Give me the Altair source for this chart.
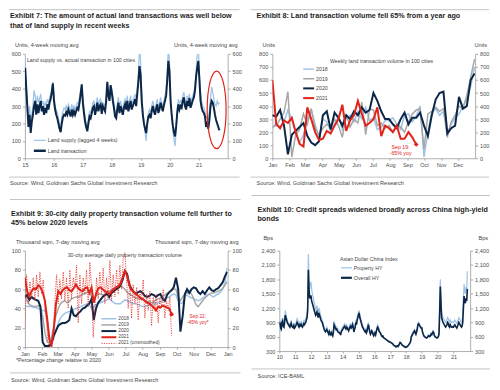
import altair as alt
import pandas as pd

# ---------------------------------------------------------------- data
# Exhibit 7: land transactions / land supply in 100 cities (4-wk avg, sampled every 2 weeks)
LAND_TRANS = {
    2015: [520, 400, 290, 180, 250, 145, 210, 250, 300, 330, 250, 310, 260, 300, 330, 270, 300, 250, 290, 260, 310, 280, 320, 340, 380, 430],
    2016: [330, 280, 250, 230, 200, 170, 150, 200, 235, 250, 245, 265, 250, 280, 260, 240, 280, 250, 270, 250, 270, 290, 280, 320, 370, 425],
    2017: [320, 260, 210, 180, 155, 200, 240, 230, 260, 290, 300, 250, 280, 320, 270, 300, 310, 255, 300, 285, 270, 330, 440, 360, 330, 420],
    2018: [380, 330, 290, 240, 230, 280, 320, 260, 300, 275, 250, 290, 310, 280, 330, 270, 300, 330, 280, 300, 320, 340, 300, 370, 440, 530],
    2019: [480, 330, 250, 200, 170, 145, 200, 240, 250, 230, 270, 300, 270, 250, 285, 310, 260, 280, 320, 295, 270, 305, 330, 360, 450, 560],
    2020: [500, 330, 250, 190, 150, 125, 180, 260, 310, 280, 300, 290, 330, 350, 300, 280, 330, 300, 345, 290, 310, 335, 350, 390, 470, 520],
    2021: [560, 450, 330, 290, 270, 260, 240, 180, 200, 170, 220, 300, 330, 320, 290, 250, 220, 200, 180, 160],
}
LAND_SUPPLY = {
    2015: [590, 430, 320, 230, 300, 200, 250, 300, 390, 360, 290, 360, 320, 340, 370, 310, 330, 290, 320, 300, 340, 320, 350, 370, 400, 440],
    2016: [360, 300, 280, 260, 230, 200, 170, 240, 270, 290, 280, 300, 280, 310, 290, 270, 310, 280, 300, 280, 300, 320, 310, 350, 390, 410],
    2017: [340, 290, 240, 200, 175, 230, 270, 260, 290, 320, 330, 280, 310, 350, 300, 330, 340, 280, 320, 310, 300, 350, 420, 380, 350, 410],
    2018: [400, 360, 320, 270, 260, 310, 350, 290, 330, 300, 280, 320, 340, 310, 360, 300, 330, 360, 310, 330, 350, 370, 330, 400, 470, 640],
    2019: [560, 380, 280, 210, 150, 100, 180, 260, 280, 260, 300, 330, 300, 280, 310, 340, 290, 310, 350, 320, 300, 330, 360, 390, 480, 640],
    2020: [560, 360, 250, 160, 110, 70, 150, 290, 340, 310, 330, 320, 360, 380, 330, 310, 360, 330, 370, 320, 340, 360, 380, 420, 500, 600],
    2021: [650, 480, 380, 330, 300, 290, 270, 230, 240, 220, 280, 350, 410, 380, 340, 310, 300, 330, 310, 320],
}
ELLIPSE_CENTER = (2021.62, 278)

# Exhibit 8: weekly land transaction volume in 100 cities (units)
WEEKLY_2018 = [230, 270, 240, 280, 370, 300, 200, 120, 180, 300, 370, 260, 160, 300, 280, 210, 260, 320, 220, 300,
               330, 280, 360, 300, 390, 290, 310, 220, 240, 290, 290, 310, 260, 220, 330, 340, 280, 320, 400, 10,
               200, 350, 380, 330, 360, 200, 260, 310, 340, 400, 450, 550, 700]
WEEKLY_2019 = [240, 250, 300, 350, 510, 10, 180, 220, 340, 260, 380, 230, 180, 230, 260, 230, 300, 250, 160, 340,
               240, 300, 270, 430, 180, 380, 370, 250, 270, 230, 250, 200, 260, 240, 200, 280, 340, 370, 380, 70,
               340, 360, 390, 360, 380, 160, 280, 330, 400, 380, 480, 620, 760]
WEEKLY_2020 = [330, 320, 370, 250, 30, 180, 210, 240, 270, 170, 120, 100, 130, 330, 360, 220, 350, 310, 250, 330,
               300, 360, 330, 390, 350, 370, 500, 440, 360, 300, 300, 260, 230, 300, 350, 260, 310, 310, 350, 250,
               170, 330, 450, 500, 510, 190, 230, 250, 470, 380, 400, 600, 650]
WEEKLY_2021 = [600, 260, 230, 290, 270, 310, 200, 110, 90, 390, 300, 200, 140, 150, 210, 190, 250, 300, 410, 210,
               290, 330, 440, 340, 250, 270, 300, 390, 170, 250, 230, 200, 250, 150, 150, 200, 160, 105]

# Exhibit 9: 30-city daily property transactions (k sqm, 7-day avg, every 4 days)
DAILY_2018 = [43, 42, 42, 42, 41, 41, 40, 39, 38, 38, 30, 12, 4, 9, 18, 25, 30, 33, 35, 36,
              37, 38, 39, 40, 41, 42, 43, 44, 45, 44, 40, 42, 44, 45, 46, 47, 48, 49, 50, 48,
              46, 45, 45, 45, 47, 49, 48, 47, 46, 45, 45, 44, 43, 42, 42, 43, 43, 44, 45, 45,
              46, 47, 48, 50, 51, 52, 54, 55, 54, 48, 45, 46, 53, 54, 52, 51, 50, 49, 48, 49,
              51, 52, 54, 55, 53, 52, 54, 55, 57, 60, 66, 82]
DAILY_2019 = [60, 48, 44, 43, 42, 42, 43, 41, 32, 15, 6, 4, 10, 22, 33, 40, 45, 47, 48, 46,
              47, 50, 51, 52, 52, 53, 55, 55, 57, 58, 52, 49, 53, 55, 55, 54, 55, 57, 58, 59,
              61, 62, 62, 63, 62, 60, 57, 55, 54, 52, 51, 50, 50, 49, 48, 47, 47, 46, 47, 49,
              50, 51, 52, 54, 56, 57, 59, 60, 60, 52, 48, 52, 55, 56, 58, 55, 50, 44, 42, 45,
              48, 51, 53, 55, 56, 56, 57, 58, 59, 61, 64, 68]
DAILY_2020 = [52, 54, 49, 52, 50, 49, 48, 42, 5, 1, 1, 1, 4, 12, 17, 22, 24, 25, 25, 26,
              28, 40, 33, 32, 35, 37, 40, 41, 43, 45, 50, 28, 40, 46, 49, 52, 54, 55, 52, 56,
              58, 60, 61, 64, 70, 79, 76, 65, 60, 57, 55, 57, 58, 56, 53, 52, 53, 55, 54, 52,
              54, 55, 50, 48, 54, 57, 59, 62, 72, 60, 16, 32, 55, 60, 56, 60, 62, 61, 57, 55,
              58, 55, 59, 62, 59, 58, 60, 61, 64, 67, 73, 78]
DAILY_2021 = [72, 58, 53, 58, 61, 60, 64, 62, 57, 48, 30, 8, 2, 18, 45, 58, 55, 59, 61, 62,
              59, 58, 61, 65, 61, 59, 58, 61, 62, 56, 62, 46, 55, 61, 62, 60, 58, 57, 55, 58,
              60, 62, 63, 66, 72, 79, 74, 64, 59, 57, 55, 53, 51, 50, 48, 46, 45, 43, 41, 38,
              42, 41, 43, 42, 41, 40, 34]
# 2021 unsmoothed, every 3 days
DAILY_2021_RAW = [20, 75, 45, 68, 50, 72, 48, 75, 52, 78, 55, 70, 40, 25, 3, 0, 2, 12, 48, 75,
                  45, 70, 50, 78, 48, 72, 40, 80, 50, 72, 62, 85, 25, 75, 45, 72, 55, 80, 42, 88,
                  62, 10, 40, 72, 50, 78, 55, 82, 45, 72, 50, 90, 48, 75, 52, 80, 55, 85, 60, 92,
                  98, 70, 40, 68, 30, 65, 45, 62, 28, 58, 48, 70, 30, 55, 38, 58, 22, 52, 40, 55,
                  25, 50, 42, 60, 30, 48, 38, 52, 12]

# Exhibit 10: Asian Dollar China index spreads (bp, twice a month)
HY_OVERALL = {
    2010: [850, 900, 780, 760, 900, 930, 820, 800, 900, 1050, 1000, 950, 900, 870, 850, 820, 800, 850, 880, 820, 800, 790, 830, 780],
    2011: [800, 830, 860, 900, 880, 820, 800, 850, 830, 860, 820, 800, 830, 870, 850, 880, 900, 950, 1000, 1150, 2000, 1600, 1400, 1450],
    2012: [1450, 1350, 1300, 1250, 1200, 1150, 1100, 1050, 1080, 1120, 1050, 1000, 1100, 1050, 1000, 950, 920, 900, 850, 800, 750, 720, 700, 720],
    2013: [750, 720, 680, 650, 700, 660, 640, 680, 650, 620, 700, 850, 820, 780, 750, 760, 720, 700, 690, 680, 660, 650, 700, 730],
    2014: [750, 780, 800, 820, 780, 760, 800, 780, 750, 720, 760, 800, 820, 780, 800, 850, 800, 700, 750, 800, 900, 850, 950, 1000],
    2015: [1050, 1100, 1000, 950, 900, 850, 800, 780, 750, 720, 700, 720, 680, 720, 800, 850, 780, 700, 650, 680, 720, 700, 650, 620],
    2016: [650, 680, 640, 700, 760, 800, 780, 720, 700, 680, 650, 620, 600, 610, 580, 570, 560, 550, 540, 530, 520, 510, 500, 490],
    2017: [490, 480, 470, 460, 450, 430, 420, 410, 400, 390, 400, 410, 400, 420, 450, 480, 470, 450, 430, 420, 410, 400, 390, 380],
    2018: [380, 390, 400, 410, 430, 450, 470, 500, 600, 620, 650, 680, 700, 720, 680, 650, 700, 750, 850, 870, 850, 820, 800, 780],
    2019: [780, 700, 650, 620, 600, 590, 580, 570, 580, 600, 620, 610, 600, 620, 650, 640, 680, 700, 680, 620, 600, 590, 580, 570],
    2020: [580, 600, 650, 1100, 1650, 1300, 1000, 950, 900, 880, 850, 820, 800, 820, 850, 900, 880, 820, 800, 850, 820, 800, 810, 800],
    2021: [800, 830, 850, 820, 800, 780, 820, 850, 900, 880, 850, 820, 800, 820, 900, 1200, 1450, 1350, 1300, 1400, 1350, 1600],
}
HY_PROPERTY = {
    2010: [800, 950, 750, 700, 950, 1000, 850, 820, 950, 1150, 1080, 1000, 950, 900, 880, 860, 840, 900, 930, 860, 840, 820, 880, 820],
    2011: [850, 880, 920, 980, 950, 870, 850, 900, 880, 920, 870, 850, 880, 930, 900, 950, 980, 1020, 1100, 1300, 2330, 1800, 1600, 1700],
    2012: [1750, 1600, 1500, 1450, 1380, 1300, 1250, 1180, 1200, 1250, 1150, 1100, 1200, 1150, 1080, 1020, 980, 950, 900, 850, 800, 760, 740, 760],
    2013: [800, 760, 720, 690, 740, 700, 670, 720, 690, 660, 750, 920, 880, 830, 800, 810, 760, 740, 730, 720, 700, 690, 740, 780],
    2014: [800, 830, 850, 870, 830, 800, 850, 830, 800, 760, 800, 850, 870, 830, 850, 900, 850, 740, 790, 850, 950, 900, 1000, 1080],
    2015: [1100, 1150, 1050, 1000, 950, 900, 850, 820, 780, 750, 730, 760, 710, 760, 840, 900, 820, 730, 680, 710, 750, 730, 680, 640],
    2016: [670, 700, 660, 730, 800, 850, 820, 750, 720, 700, 670, 640, 610, 620, 590, 575, 565, 550, 540, 530, 515, 505, 495, 480],
    2017: [480, 470, 455, 445, 435, 420, 405, 395, 385, 375, 385, 395, 385, 405, 440, 470, 460, 440, 420, 405, 395, 385, 375, 365],
    2018: [370, 380, 390, 400, 420, 445, 470, 510, 620, 650, 680, 710, 730, 750, 700, 670, 720, 780, 880, 900, 880, 850, 830, 800],
    2019: [800, 720, 670, 640, 620, 600, 590, 580, 590, 610, 640, 630, 620, 650, 680, 670, 700, 730, 700, 640, 620, 600, 590, 580],
    2020: [590, 620, 680, 1200, 1800, 1400, 1100, 1050, 1000, 980, 950, 920, 900, 930, 960, 1000, 980, 920, 900, 950, 920, 900, 910, 900],
    2021: [900, 930, 950, 920, 900, 880, 920, 950, 1000, 980, 950, 920, 900, 930, 1050, 1400, 1700, 1550, 1500, 1650, 1550, 1970],
}

MONTHS = ["Jan", "Feb", "Mar", "Apr", "May", "Jun", "Jul", "Aug", "Sep", "Oct", "Nov", "Dec", "Jan"]
MONTH_START = [0, 31, 59, 90, 120, 151, 181, 212, 243, 273, 304, 334, 365]

T7 = ["Exhibit 7: The amount of actual land transactions was well below", "that of land supply in recent weeks"]
T8 = "Exhibit 8: Land transaction volume fell 65% from a year ago"
T9 = ["Exhibit 9: 30-city daily property transaction volume fell further to", "45% below 2020 levels"]
T10 = ["Exhibit 10: Credit spreads widened broadly across China high-yield", "bonds"]
SRC = "Source: Wind, Goldman Sachs Global Investment Research"

# ---------------------------------------------------------------- styles
FONT = "Liberation Sans, Arial, Helvetica, sans-serif"
NAVY = "#0c2647"
LIGHT = "#9dc3e6"
GRAY = "#a6a6a6"
RED = "#e2231a"
TXT = "#454545"
TTL = "#1e1e1e"
RULEC = "#b4b4b4"
TF = 7.25   # title font size
SF = 5.6    # small font size
LF = 5.3    # legend / note font size


def one():
    return pd.DataFrame({"a": [0]})


def text(s, x, y, size=SF, color=TXT, bold=False, align="left"):
    return alt.Chart(pd.DataFrame({"t": [s]})).mark_text(
        align=align, baseline="middle", fontSize=size, font=FONT,
        fontWeight="bold" if bold else "normal", color=color,
    ).encode(x=alt.value(x), y=alt.value(y), text="t:N")


def hrule(x1, x2, y, color=RULEC, width=0.8, dash=None):
    kw = dict(color=color, strokeWidth=width)
    if dash:
        kw["strokeDash"] = dash
    return alt.Chart(one()).mark_rule(**kw).encode(
        x=alt.value(x1), x2=alt.value(x2), y=alt.value(y))


def frame(x1, x2, y1, y2):
    return alt.Chart(one()).mark_rect(fill="white", opacity=0).encode(
        x=alt.value(x1), x2=alt.value(x2), y=alt.value(y1), y2=alt.value(y2))


def yax(orient, values, fmt=None):
    kw = dict(orient=orient, values=values, title=None, grid=False)
    if fmt:
        kw["format"] = fmt
    return alt.Axis(**kw)


def xax(values, expr):
    return alt.Axis(values=values, labelExpr=expr, title=None, grid=False,
                    labelFlush=False, labelOverlap=False, tickSize=2)


def line(df, xs, ys, xa, ya, color, width, dash=None):
    kw = dict(color=color, strokeWidth=width, clip=True)
    if dash:
        kw["strokeDash"] = dash
    return alt.Chart(df).mark_line(**kw).encode(
        x=alt.X("x:Q", scale=xs, axis=xa),
        y=alt.Y("v:Q", scale=ys, axis=ya))


def flat(d):
    return [v for y in sorted(d) for v in d[y]]


MONTH_EXPR = "[" + ",".join("'%s'" % m for m in MONTHS) + "][indexof([" + \
    ",".join(str(v) for v in MONTH_START) + "], datum.value)]"
YEAR_EXPR = "substring(toString(datum.value), 2, 4)"

# ---------------------------------------------------------------- Exhibit 7
t1 = flat(LAND_TRANS)
s1 = flat(LAND_SUPPLY)
d1 = pd.date_range("2015-01-04", periods=len(t1), freq="14D")
x1 = list(2015 + (d1 - pd.Timestamp("2015-01-01")).days / 365.25)
df1_t = pd.DataFrame({"x": x1, "v": t1})
df1_s = pd.DataFrame({"x": x1[:len(s1)], "v": s1})

xs1 = alt.Scale(domain=[2015, 2022], nice=False, zero=False)
ys1 = alt.Scale(domain=[0, 600], nice=False)
xa1 = xax(list(range(2015, 2022)), YEAR_EXPR)
yv1 = list(range(0, 601, 100))
ELL = "M0,-1A0.244,1,0,1,1,0,1A0.244,1,0,1,1,0,-1Z"

p1 = alt.layer(
    frame(-16, 226, -45, 140),
    hrule(-16, 216, -44.5),
    text(T7[0], -15, -38.5, TF, TTL, True),
    text(T7[1], -15, -28.5, TF, TTL, True),
    text("Units, 4-week moving avg", -10, -9),
    text("Units, 4-week moving avg", 214, -9, align="right"),
    line(df1_s, xs1, ys1, xa1, yax("left", yv1), LIGHT, 1.2),
    line(df1_t, xs1, ys1, xa1, yax("right", yv1), NAVY, 2.0),
    alt.Chart(pd.DataFrame({"x": [ELLIPSE_CENTER[0]], "v": [ELLIPSE_CENTER[1]]})).mark_point(
        shape=ELL, size=6084, filled=False, color=RED, strokeWidth=1.2, opacity=1
    ).encode(x=alt.X("x:Q", scale=xs1, axis=xa1), y=alt.Y("v:Q", scale=ys1, axis=None)),
    text("Land supply vs. actual transaction in 100 cities", 2, 6, LF),
    hrule(9, 21, 87, LIGHT, 1.2),
    text("Land supply (lagged 4 weeks)", 23, 87, LF),
    hrule(9, 21, 97.5, NAVY, 2.5),
    text("Land transaction", 23, 97.5, LF),
    hrule(-16, 216, 124),
    text(SRC, -15, 130),
).resolve_axis(y="independent").properties(width=204, height=105)

# ---------------------------------------------------------------- Exhibit 8
def weekly(a):
    return pd.DataFrame({"x": [7 * i for i in range(len(a))], "v": a})


xs2 = alt.Scale(domain=[0, 365], nice=False, zero=False)
ys2 = alt.Scale(domain=[0, 800], nice=False)
xa2 = xax(MONTH_START[:12], MONTH_EXPR)
yv2 = list(range(0, 801, 100))
end21 = weekly(WEEKLY_2021).tail(1)

p2 = alt.layer(
    frame(-22, 220, -45, 140),
    hrule(-22, 218, -44.5),
    text(T8, -16, -38.5, TF, TTL, True),
    text("Units", -10, -9),
    text("Units", 216, -9, align="right"),
    line(weekly(WEEKLY_2018), xs2, ys2, xa2, yax("left", yv2), LIGHT, 1.5),
    line(weekly(WEEKLY_2019), xs2, ys2, xa2, yax("right", yv2), GRAY, 1.5),
    line(weekly(WEEKLY_2020), xs2, ys2, xa2, None, NAVY, 2.0),
    line(weekly(WEEKLY_2021), xs2, ys2, xa2, None, RED, 2.0),
    alt.Chart(end21).mark_point(shape="diamond", filled=True, size=22, color=RED, opacity=1).encode(
        x=alt.X("x:Q", scale=xs2, axis=xa2), y=alt.Y("v:Q", scale=ys2, axis=None)),
    text("Weekly land transaction volume in 100 cities", 58, 7, LF),
    hrule(31, 42, 15.3, LIGHT, 1.5), text("2018", 44, 15.3, LF),
    hrule(31, 42, 25, GRAY, 1.5), text("2019", 44, 25, LF),
    hrule(31, 42, 34.7, NAVY, 2.0), text("2020", 44, 34.7, LF),
    hrule(31, 42, 44.5, RED, 2.0), text("2021", 44, 44.5, LF),
    text("Sep 19:", 129, 93.5, LF, RED, align="center"),
    text("-65% yoy", 129, 99.7, LF, RED, align="center"),
    hrule(-22, 218, 124),
    text(SRC, -16, 130),
).resolve_axis(y="independent").properties(width=204, height=105)

# ---------------------------------------------------------------- Exhibit 9
def daily(a, step):
    return pd.DataFrame({"x": [step * i for i in range(len(a))], "v": a})


xs3 = alt.Scale(domain=[0, 365], nice=False, zero=False)
ys3 = alt.Scale(domain=[0, 100], nice=False)
xa3 = xax(MONTH_START, MONTH_EXPR)
yv3 = list(range(0, 101, 20))
end9 = daily(DAILY_2021, 4).tail(1)
L3 = 4.8

p3 = alt.layer(
    frame(-15, 227, -54, 135),
    hrule(-15, 217, -51.5),
    text(T9[0], -14, -37, TF, TTL, True),
    text(T9[1], -14, -27.7, TF, TTL, True),
    text("Thousand sqm, 7-day moving avg", -9, -8.7),
    text("Thousand sqm, 7-day moving avg", 215, -8.7, align="right"),
    line(daily(DAILY_2018, 4), xs3, ys3, xa3, yax("left", yv3), LIGHT, 1.5),
    line(daily(DAILY_2019, 4), xs3, ys3, xa3, yax("right", yv3), GRAY, 1.5),
    line(daily(DAILY_2020, 4), xs3, ys3, xa3, None, NAVY, 2.0),
    line(daily(DAILY_2021_RAW, 3), xs3, ys3, xa3, None, RED, 0.8, [1.2, 1.2]),
    line(daily(DAILY_2021, 4), xs3, ys3, xa3, None, RED, 2.0),
    alt.Chart(end9).mark_circle(size=16, color=RED, opacity=1).encode(
        x=alt.X("x:Q", scale=xs3, axis=xa3), y=alt.Y("v:Q", scale=ys3, axis=None)),
    text("30-city average daily property transaction volume", 43, 4.7, LF),
    hrule(77, 92, 68.5, LIGHT, 1.5), text("2018", 94, 68.5, L3),
    hrule(77, 92, 74.7, GRAY, 1.5), text("2019", 94, 74.7, L3),
    hrule(77, 92, 80.9, NAVY, 2.0), text("2020", 94, 80.9, L3),
    hrule(77, 92, 87.1, RED, 2.0), text("2021", 94, 87.1, L3),
    hrule(77, 92, 93.3, RED, 0.8, [1.2, 1.2]), text("2021 (unsmoothed)", 94, 93.3, L3),
    text("Sep 22:", 174, 67, L3, RED, align="center"),
    text("-45% yoy*", 174, 72.7, L3, RED, align="center"),
    text("*Percentage change relative to 2020", -9, 110, LF),
    hrule(-15, 217, 123),
    text(SRC, -14, 130),
).resolve_axis(y="independent").properties(width=204, height=97)

# ---------------------------------------------------------------- Exhibit 10
def semimonthly(d):
    xs, vs = [], []
    for y in sorted(d):
        for j, v in enumerate(d[y]):
            xs.append(y + j / 24)
            vs.append(v)
    return pd.DataFrame({"x": xs, "v": vs})


xs4 = alt.Scale(domain=[2010, 2022.05], nice=False, zero=False)
ys4 = alt.Scale(domain=[300, 2400], nice=False, zero=False)
xa4 = xax(list(range(2010, 2022)), YEAR_EXPR)
yv4 = list(range(300, 2401, 300))

p4 = alt.layer(
    frame(-28, 214, -58, 131),
    hrule(-28, 212, -55.5),
    text(T10[0], -22, -41, TF, TTL, True),
    text(T10[1], -22, -31.7, TF, TTL, True),
    text("Bps", -16, -12.7),
    text("Bps", 210, -12.7, align="right"),
    line(semimonthly(HY_PROPERTY), xs4, ys4, xa4, yax("left", yv4, ",d"), LIGHT, 1.2),
    line(semimonthly(HY_OVERALL), xs4, ys4, xa4, yax("right", yv4, ",d"), NAVY, 1.6),
    text("Asian Dollar China Index", 61, 8.3, LF),
    hrule(62, 73, 17.3, LIGHT, 1.2), text("Property HY", 75, 17.3, LF),
    hrule(62, 73, 27.3, NAVY, 2.2), text("Overall HY", 75, 27.3, LF),
    hrule(-28, 212, 119),
    text("Source: ICE-BAML", -22, 126),
).resolve_axis(y="independent").properties(width=192, height=101)

# ---------------------------------------------------------------- assemble
top = alt.hconcat(p1, p2, spacing=0).resolve_scale(x="independent", y="independent")
bottom = alt.hconcat(p3, p4, spacing=0).resolve_scale(x="independent", y="independent")
chart = alt.vconcat(top, bottom, spacing=0).resolve_scale(
    x="independent", y="independent"
).properties(padding=0).configure_view(stroke=None).configure_axis(
    labelFont=FONT, labelFontSize=SF, labelColor="#505050",
    domainColor="#9a9a9a", tickColor="#9a9a9a", domainWidth=0.8, tickWidth=0.8,
    tickSize=2.5, labelPadding=2,
)

chart.save("out.html", embed_options={"renderer": "svg", "actions": False})
